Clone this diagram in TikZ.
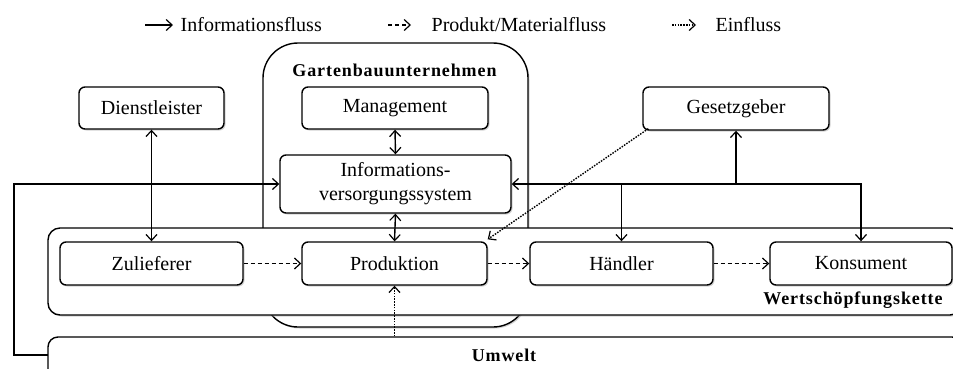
\documentclass[tikz,border=0pt]{standalone}
\usepackage{fontspec}
\setmainfont{Liberation Serif}
\newfontfamily\headfont{Liberation Serif}[LetterSpace=5]
\usetikzlibrary{arrows.meta,shadows}
\begin{document}
\begin{tikzpicture}[x=1pt,y=-1pt,
  >={Straight Barb[length=6pt,width=11pt,line width=1.2pt]},
  line width=1.4pt,
  shade/.style={drop shadow={shadow xshift=1.5pt,shadow yshift=-1.5pt,fill=black!35}},
  box/.style={draw, rounded corners=6pt, fill=white, inner sep=0pt, align=center,
    font=\fontsize{20}{24}\selectfont, shade},
  frame/.style={draw, fill=white, inner sep=0pt, shade},
  head/.style={font=\headfont\bfseries\fontsize{18}{22}\selectfont, inner sep=0pt},
  legend/.style={font=\fontsize{20}{24}\selectfont, inner sep=0pt, anchor=west},
  material/.style={dash pattern=on 4pt off 3pt},
  influence/.style={dash pattern=on 1.5pt off 1.3pt}]
\path[use as bounding box] (0,0) rectangle (953,368);
\clip (0,0) rectangle (953,368);

% legend
\coordinate (la1) at (145,25); \coordinate (lb1) at (173,25);
\coordinate (la2) at (388,25); \coordinate (lb2) at (411,25);
\coordinate (la3) at (672,25); \coordinate (lb3) at (696,25);
\draw[->] (la1) -- (lb1);
\draw[->,material] (la2) -- (lb2);
\draw[->,influence] (la3) -- (lb3);
\node[legend] (t1) at (180,25) {Informationsfluss};
\node[legend] (t2) at (431,25) {Produkt/Materialfluss};
\node[legend] (t3) at (715,25) {Einfluss};

% containers
\node[frame, rounded corners=35pt, minimum width=265pt, minimum height=284pt] (gbu) at (395.5,185) {};
\node[head] (gbulabel) at (394.5,70) {Gartenbauunternehmen};
\node[frame, rounded corners=12pt, minimum width=914pt, minimum height=87pt] (wsk) at (505,271.5) {};
\node[head] (wsklabel) at (853,300) {Wertschöpfungskette};
\node[frame, rounded corners=10pt, minimum width=914pt, minimum height=60pt] (umwelt) at (505,367) {};
\node[head] (umweltlabel) at (504,355) {Umwelt};

% actors
\node[box, minimum width=145pt, minimum height=42pt] (dienst) at (151.5,108) {Dienstleister};
\node[box, minimum width=186pt, minimum height=42pt] (mgmt) at (395,108) {Management};
\node[box, minimum width=186pt, minimum height=43pt] (gesetz) at (736,108.5) {Gesetzgeber};
\node[box, minimum width=231pt, minimum height=58pt] (info) at (395.5,184) {Informations-\\versorgungssystem};
\node[box, minimum width=183pt, minimum height=43pt] (zul) at (151.5,263.5) {Zulieferer};
\node[box, minimum width=185pt, minimum height=43pt] (prod) at (394.5,263.5) {Produktion};
\node[box, minimum width=183pt, minimum height=43pt] (haend) at (621.5,263.5) {Händler};
\node[box, minimum width=182pt, minimum height=43pt] (kons) at (861,263.5) {Konsument};

% information flows
\draw[<->] (dienst.south) -- (zul.north);
\draw[<->] (mgmt.south) -- (info.north);
\draw[<->] (info.south) -- (prod.north);
\coordinate (uw) at (48,355);
\coordinate (loopbl) at (14,355);
\coordinate (looptl) at (14,184);
\draw[->] (uw) -- (loopbl) -- (looptl) -- (info.west);
\coordinate (bus) at (862,184);
\draw[->] (bus) -- (info.east);
\draw[->] (kons.north |- bus) -- (kons.north);
\draw[->] (haend.north |- bus) -- (haend.north);
\draw[->] (gesetz.south |- bus) -- (gesetz.south);

% material flows
\draw[->,material] (zul.east) -- (prod.west);
\draw[->,material] (prod.east) -- (haend.west);
\draw[->,material] (haend.east) -- (kons.west);

% influences
\draw[->,influence] ([xshift=6pt,yshift=2pt]gesetz.south west) -- ([yshift=2pt]prod.north east);
\draw[->,influence] (prod.south |- umwelt.north) -- (prod.south);
\end{tikzpicture}
\end{document}
